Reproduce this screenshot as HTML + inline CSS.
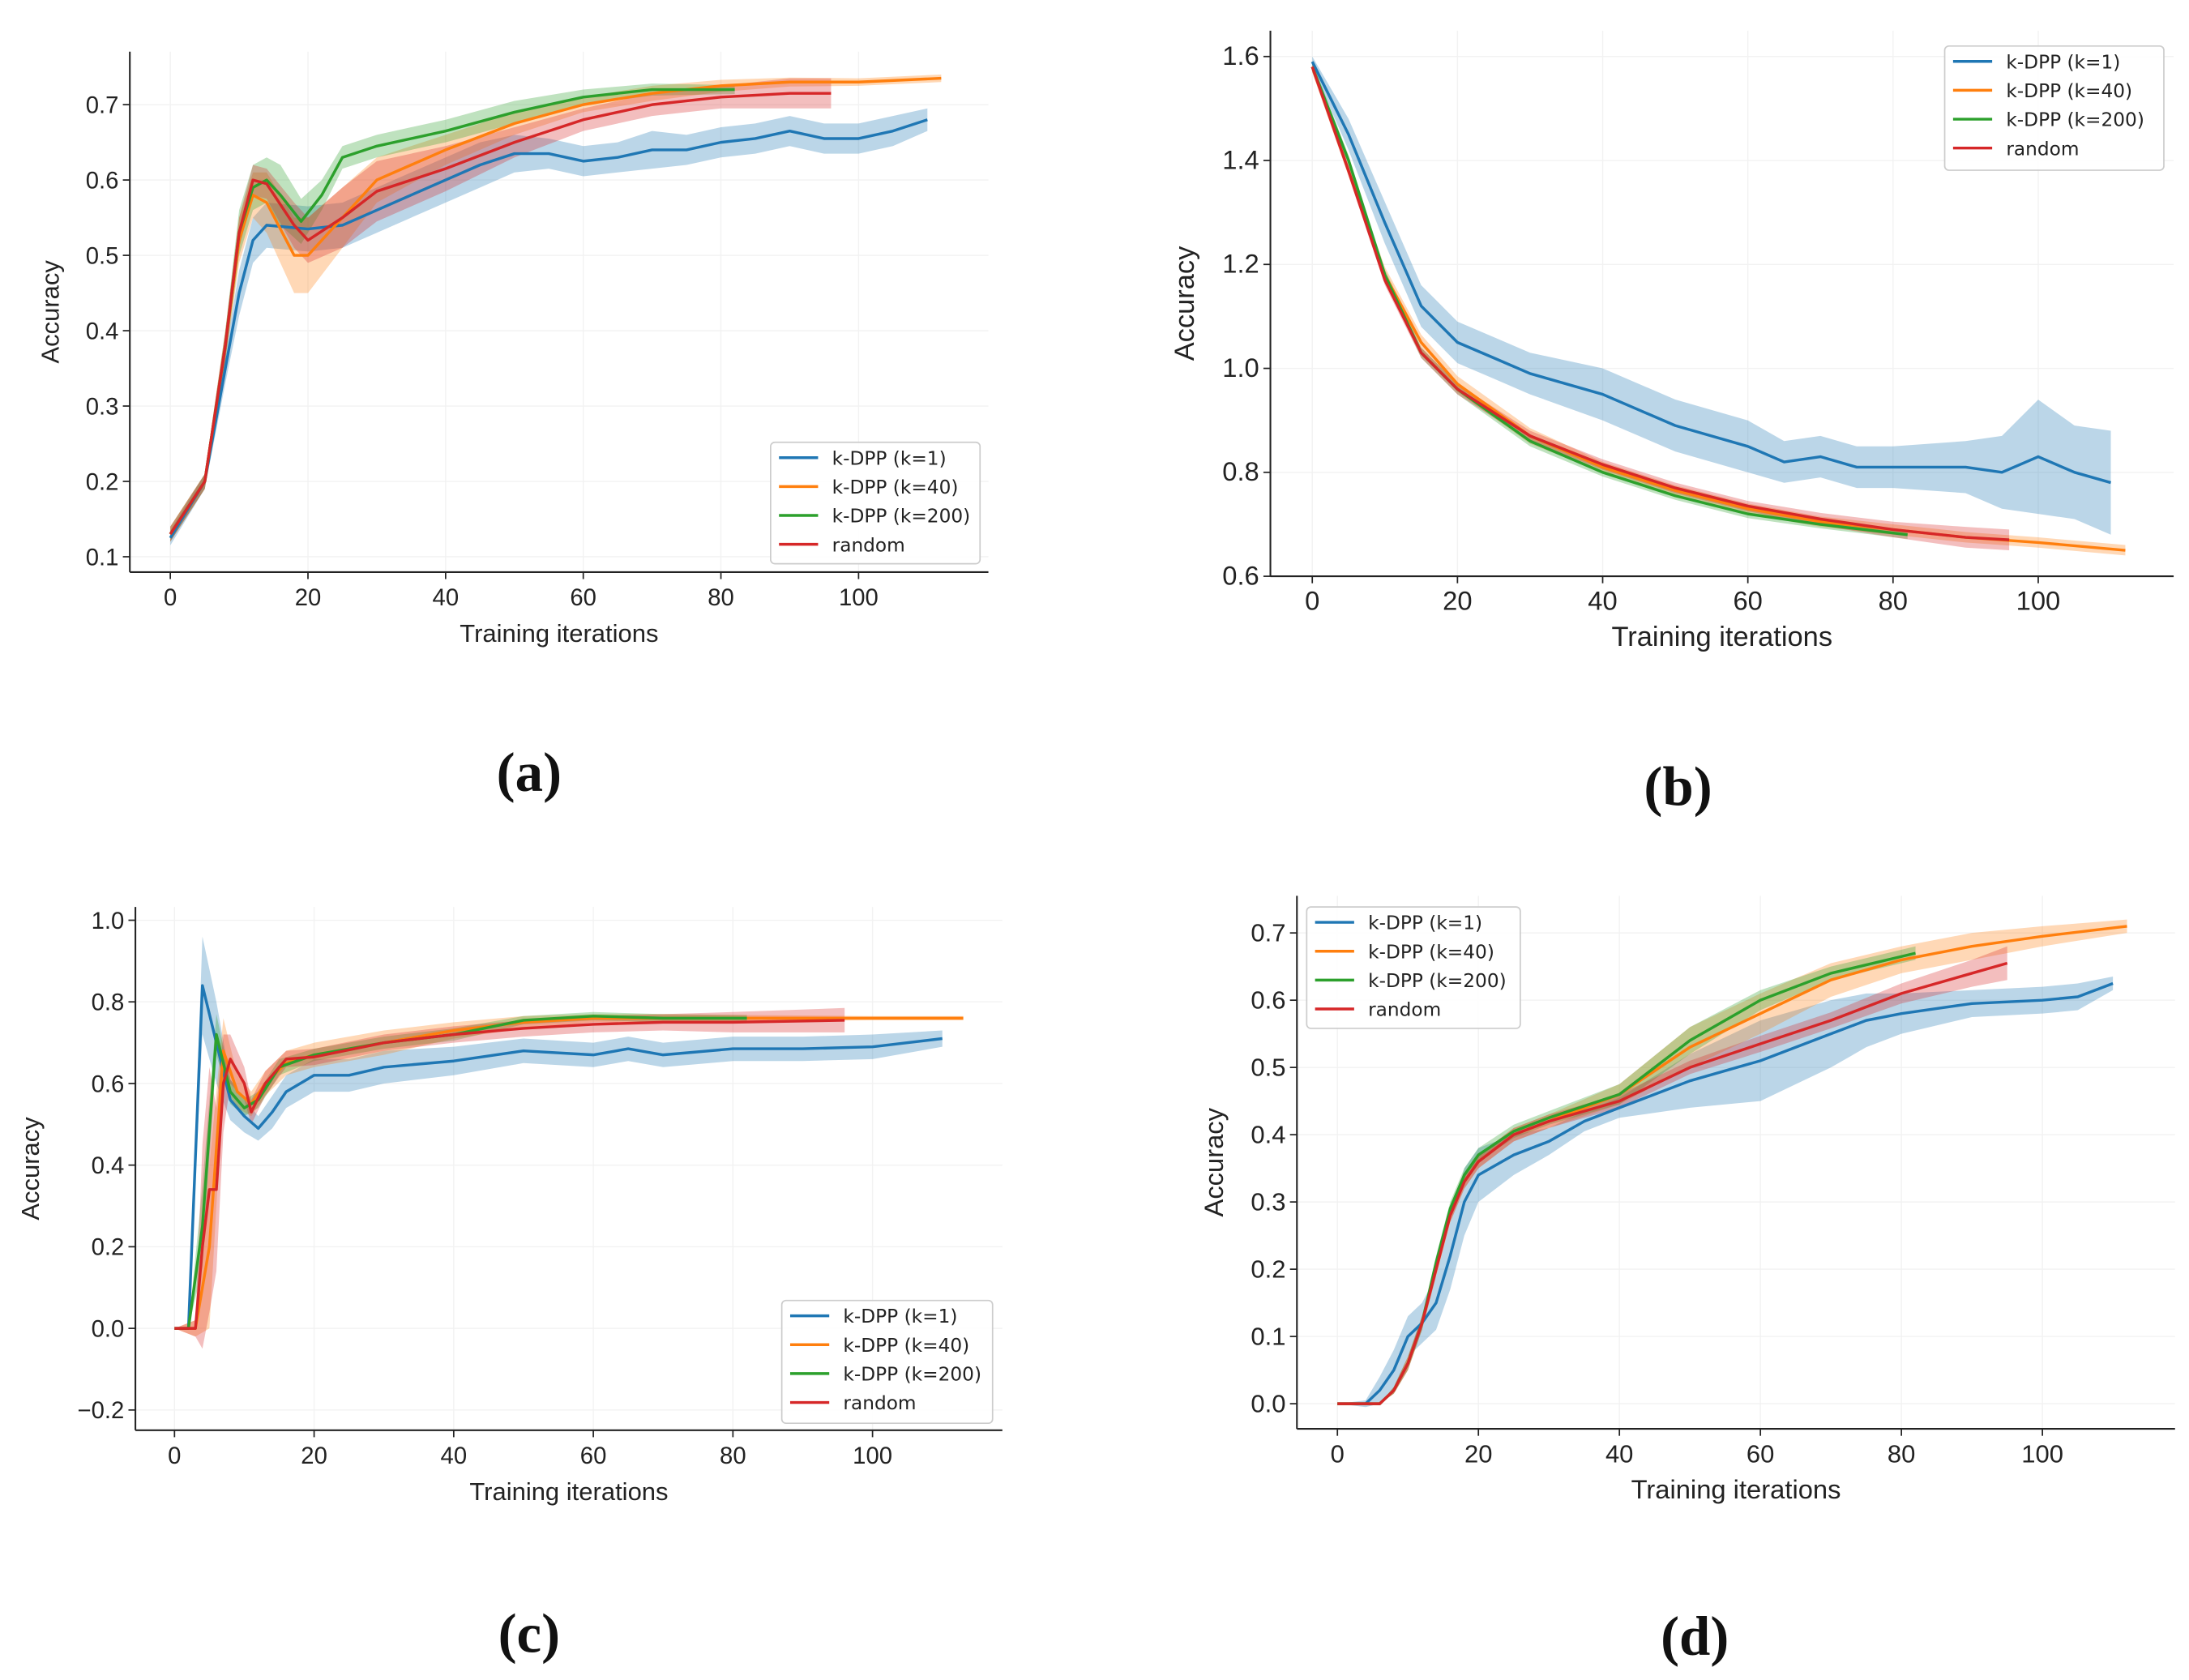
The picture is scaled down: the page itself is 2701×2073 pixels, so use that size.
<!DOCTYPE html>
<html><head><meta charset="utf-8"><style>
html,body{margin:0;padding:0;background:#fff;}
svg{display:block;}
</style></head><body>
<svg id="fig" width="2701" height="2073" viewBox="0 0 1568 1204" preserveAspectRatio="none" xmlns="http://www.w3.org/2000/svg"></svg>
<script>
// ---------- data: chart (a) ----------
const aBlueX=[0,5,8,10,12,14,20,25,30,35,40,45,50,55,60,65,70,75,80,85,90,95,100,105,110];
const aBlueY=[0.125,0.2,0.35,0.45,0.52,0.54,0.535,0.54,0.56,0.58,0.6,0.62,0.635,0.635,0.625,0.63,0.64,0.64,0.65,0.655,0.665,0.655,0.655,0.665,0.68];
const aBlueE=[0.01,0.01,0.02,0.03,0.03,0.03,0.03,0.03,0.03,0.03,0.03,0.03,0.025,0.02,0.02,0.02,0.025,0.02,0.02,0.02,0.02,0.02,0.02,0.02,0.015];
const aOrangeX=[0,5,8,10,12,14,18,20,25,30,35,40,50,60,70,80,90,100,112];
const aOrangeY=[0.13,0.2,0.38,0.52,0.58,0.57,0.5,0.5,0.55,0.6,0.62,0.64,0.675,0.7,0.715,0.725,0.73,0.73,0.735];
const aOrangeE=[0.01,0.01,0.02,0.03,0.03,0.04,0.05,0.05,0.04,0.03,0.025,0.02,0.015,0.01,0.01,0.008,0.006,0.005,0.005];
const aGreenX=[0,5,8,10,12,14,16,19,22,25,30,40,50,60,70,82];
const aGreenY=[0.13,0.2,0.38,0.53,0.59,0.6,0.58,0.545,0.58,0.63,0.645,0.665,0.69,0.71,0.72,0.72];
const aGreenE=[0.01,0.01,0.02,0.03,0.03,0.03,0.04,0.03,0.02,0.015,0.015,0.015,0.015,0.01,0.008,0.006];
const aRedX=[0,5,8,10,12,14,18,20,25,30,40,50,60,70,80,90,96];
const aRedY=[0.13,0.2,0.38,0.53,0.6,0.595,0.54,0.52,0.55,0.585,0.615,0.65,0.68,0.7,0.71,0.715,0.715];
const aRedE=[0.01,0.01,0.02,0.02,0.02,0.02,0.03,0.03,0.04,0.04,0.03,0.02,0.015,0.015,0.015,0.02,0.02];
const aXTicks=[0,20,40,60,80,100];
const aYTicks=[0.1,0.2,0.3,0.4,0.5,0.6,0.7];
// ---------- data: chart (b) ----------
const bBlueX=[0,5,10,15,20,25,30,40,50,60,65,70,75,80,90,95,100,105,110];
const bBlueY=[1.59,1.45,1.28,1.12,1.05,1.02,0.99,0.95,0.89,0.85,0.82,0.83,0.81,0.81,0.81,0.80,0.83,0.80,0.78];
const bBlueE=[0.01,0.03,0.04,0.04,0.04,0.04,0.04,0.05,0.05,0.05,0.04,0.04,0.04,0.04,0.05,0.07,0.11,0.09,0.1];
const bOrangeX=[0,5,10,15,20,30,40,50,60,70,80,90,100,112];
const bOrangeY=[1.58,1.38,1.18,1.05,0.97,0.87,0.81,0.765,0.73,0.705,0.69,0.675,0.665,0.65];
const bOrangeE=[0.01,0.01,0.015,0.015,0.015,0.015,0.01,0.01,0.01,0.01,0.01,0.01,0.01,0.01];
const bGreenX=[0,5,10,15,20,30,40,50,60,70,82];
const bGreenY=[1.58,1.4,1.18,1.03,0.96,0.86,0.8,0.755,0.72,0.7,0.68];
const bGreenE=[0.01,0.01,0.01,0.01,0.01,0.01,0.008,0.008,0.008,0.008,0.008];
const bRedX=[0,5,10,15,20,30,40,50,60,70,80,90,96];
const bRedY=[1.58,1.38,1.17,1.03,0.96,0.87,0.815,0.77,0.735,0.71,0.69,0.675,0.67];
const bRedE=[0.01,0.01,0.01,0.01,0.01,0.01,0.01,0.01,0.01,0.012,0.015,0.02,0.02];
const bXTicks=[0,20,40,60,80,100];
const bYTicks=[0.6,0.8,1.0,1.2,1.4,1.6];
// ---------- data: chart (c) ----------
const cBlueX=[0,2,4,6,8,10,12,14,16,20,25,30,40,50,60,65,70,80,90,100,110];
const cBlueY=[0,0,0.84,0.7,0.56,0.52,0.49,0.53,0.58,0.62,0.62,0.64,0.655,0.68,0.67,0.685,0.67,0.685,0.685,0.69,0.71];
const cBlueE=[0,0,0.12,0.1,0.05,0.04,0.03,0.04,0.04,0.04,0.04,0.04,0.035,0.03,0.03,0.03,0.03,0.03,0.03,0.03,0.02];
const cOrangeX=[0,3,5,7,9,11,13,16,20,30,40,50,60,70,80,100,113];
const cOrangeY=[0,0,0.2,0.68,0.58,0.55,0.6,0.65,0.67,0.7,0.73,0.75,0.76,0.76,0.76,0.76,0.76];
const cOrangeE=[0,0.02,0.2,0.08,0.04,0.03,0.03,0.03,0.03,0.03,0.02,0.015,0.01,0.01,0.008,0.005,0.005];
const cGreenX=[0,2,4,6,8,10,12,15,20,30,40,50,60,70,82];
const cGreenY=[0,0,0.25,0.72,0.58,0.54,0.56,0.64,0.67,0.7,0.72,0.755,0.765,0.76,0.76];
const cGreenE=[0,0,0.1,0.05,0.03,0.02,0.02,0.02,0.015,0.015,0.015,0.01,0.01,0.01,0.008];
const cRedX=[0,3,4,5,6,7,8,10,11,13,16,20,30,40,50,60,70,80,96];
const cRedY=[0,0,0.2,0.34,0.34,0.6,0.66,0.6,0.53,0.6,0.66,0.665,0.7,0.72,0.735,0.745,0.75,0.75,0.755];
const cRedE=[0,0.02,0.25,0.3,0.2,0.12,0.06,0.04,0.03,0.03,0.02,0.02,0.02,0.02,0.02,0.02,0.02,0.025,0.03];
const cXTicks=[0,20,40,60,80,100];
const cYTicks=[-0.2,0.0,0.2,0.4,0.6,0.8,1.0];
// ---------- data: chart (d) ----------
const dBlueX=[0,4,6,8,10,12,14,16,18,20,25,30,35,40,50,60,70,75,80,90,100,105,110];
const dBlueY=[0,0,0.02,0.05,0.1,0.12,0.15,0.22,0.3,0.34,0.37,0.39,0.42,0.44,0.48,0.51,0.55,0.57,0.58,0.595,0.6,0.605,0.625];
const dBlueE=[0,0.005,0.02,0.03,0.03,0.03,0.04,0.05,0.05,0.04,0.03,0.02,0.015,0.015,0.04,0.06,0.05,0.04,0.03,0.02,0.02,0.02,0.01];
const dOrangeX=[0,6,8,10,12,14,16,18,20,25,30,40,50,60,70,80,90,100,112];
const dOrangeY=[0,0,0.02,0.06,0.12,0.2,0.28,0.33,0.36,0.4,0.42,0.46,0.53,0.58,0.63,0.66,0.68,0.695,0.71];
const dOrangeE=[0,0,0.005,0.01,0.01,0.01,0.01,0.01,0.01,0.01,0.01,0.015,0.03,0.03,0.025,0.02,0.02,0.015,0.01];
const dGreenX=[0,6,8,10,12,14,16,18,20,25,30,40,50,60,70,82];
const dGreenY=[0,0,0.02,0.06,0.12,0.21,0.29,0.34,0.37,0.405,0.425,0.46,0.54,0.6,0.64,0.67];
const dGreenE=[0,0,0.005,0.01,0.01,0.01,0.01,0.01,0.01,0.01,0.01,0.015,0.02,0.015,0.01,0.01];
const dRedX=[0,6,8,10,12,14,16,18,20,25,30,40,50,60,70,80,90,95];
const dRedY=[0,0,0.02,0.06,0.12,0.2,0.28,0.33,0.36,0.4,0.42,0.45,0.5,0.535,0.57,0.61,0.64,0.655];
const dRedE=[0,0,0.005,0.01,0.01,0.01,0.01,0.01,0.01,0.01,0.01,0.01,0.01,0.012,0.012,0.015,0.02,0.025];
const dXTicks=[0,20,40,60,80,100];
const dYTicks=[0.0,0.1,0.2,0.3,0.4,0.5,0.6,0.7];
const legendLabels=["k-DPP (k=1)","k-DPP (k=40)","k-DPP (k=200)","random"];
const COLORS=["#1f77b4","#ff7f0e","#2ca02c","#d62728"];

const NS="http://www.w3.org/2000/svg";
const svg=document.getElementById('fig');
function mk(tag,attrs,parent){const e=document.createElementNS(NS,tag);for(const k in attrs)e.setAttribute(k,attrs[k]);(parent||svg).appendChild(e);return e;}
const SANS='font-family:"Liberation Sans",sans-serif;';
const DJ='font-family:"DejaVu Sans",sans-serif;';
const SERIF='font-family:"Liberation Serif",serif;font-weight:bold;';

function drawChart(id,cfg,series,xTicks,yTicks){
  const g=mk('g',{});
  
  
  const sx=cfg.sx, sy=cfg.sy;
  xTicks.forEach(t=>{mk('line',{x1:sx(t),x2:sx(t),y1:cfg.top,y2:cfg.bottom,stroke:'#f2f2f2','stroke-width':0.8},g);});
  yTicks.forEach(t=>{mk('line',{x1:cfg.left,x2:cfg.right,y1:sy(t),y2:sy(t),stroke:'#f2f2f2','stroke-width':0.8},g);});
  series.forEach((s,i)=>{
    let up='',dn='';
    s.x.forEach((v,j)=>{up+=(j?'L':'M')+sx(v).toFixed(1)+','+sy(s.y[j]+s.e[j]).toFixed(1);});
    for(let j=s.x.length-1;j>=0;j--){dn+='L'+sx(s.x[j]).toFixed(1)+','+sy(s.y[j]-s.e[j]).toFixed(1);}
    const band=mk('path',{d:up+dn+'Z',fill:COLORS[i],'fill-opacity':0.3,stroke:'none'},g);
    
    
  });
  series.forEach((s,i)=>{
    let d='';
    s.x.forEach((v,j)=>{d+=(j?'L':'M')+sx(v).toFixed(1)+','+sy(s.y[j]).toFixed(1);});
    const line=mk('path',{d:d,fill:'none',stroke:COLORS[i],'stroke-width':2,'stroke-linejoin':'round'},g);
    
    
  });
  mk('line',{x1:cfg.left,x2:cfg.left,y1:cfg.top,y2:cfg.bottom,stroke:'#222','stroke-width':1.2},g);
  mk('line',{x1:cfg.left,x2:cfg.right,y1:cfg.bottom,y2:cfg.bottom,stroke:'#222','stroke-width':1.2},g);
  xTicks.forEach(t=>{
    mk('line',{x1:sx(t),x2:sx(t),y1:cfg.bottom,y2:cfg.bottom+5,stroke:'#222'},g);
    const tx=mk('text',{x:sx(t),y:cfg.bottom+24,'text-anchor':'middle',fill:'#222',style:SANS+'font-size:'+cfg.fs+'px'},g);
    tx.textContent=String(t);
    
    
  });
  yTicks.forEach(t=>{
    mk('line',{x1:cfg.left-5,x2:cfg.left,y1:sy(t),y2:sy(t),stroke:'#222'},g);
    const ty=mk('text',{x:cfg.left-8,y:sy(t)+6,'text-anchor':'end',fill:'#222',style:SANS+'font-size:'+cfg.fs+'px'},g);
    ty.textContent=(t<0?'\u2212':'')+Math.abs(t).toFixed(1);
    
    
  });
  const xt=mk('text',{x:(cfg.left+cfg.right)/2,y:cfg.bottom+50,'text-anchor':'middle',fill:'#222',style:SANS+'font-size:'+(cfg.fs+1)+'px'},g);
  xt.textContent='Training iterations';
  
  
  const yx=cfg.ytx, yy=(cfg.top+cfg.bottom)/2;
  const yt=mk('text',{x:yx,y:yy,'text-anchor':'middle',fill:'#222',style:SANS+'font-size:'+(cfg.fs+1)+'px',transform:'rotate(-90 '+yx+' '+yy+')'},g);
  yt.textContent='Accuracy';
  
  
  const L=cfg.legend;
  const lg=mk('g',{},g);
  
  
  mk('rect',{x:L.x,y:L.y,width:L.w,height:L.h,rx:3,fill:'#fff','fill-opacity':0.9,stroke:'#ccc'},lg);
  legendLabels.forEach((lab,i)=>{
    const yy2=L.y+11+i*20.7;
    mk('line',{x1:L.x+6,x2:L.x+34,y1:yy2,y2:yy2,stroke:COLORS[i],'stroke-width':2},lg);
    const lt=mk('text',{x:L.x+44,y:yy2+5,fill:'#222',style:DJ+'font-size:13.5px'},lg);
    lt.textContent=lab;
    
    
  });
  const cap=mk('text',{x:cfg.cap[0],y:cfg.cap[1],'text-anchor':'middle',fill:'#111',style:SERIF+'font-size:40px'},g);
  cap.textContent=cfg.cap[2];
  
  
}

function S(name,x,y,e){return {name,x,y,e};}
drawChart('chart-a',{sx:v=>122+v*4.93,sy:v=>399-(v-0.1)*540,left:93,right:708,top:37,bottom:410,fs:17,ytx:42,
  legend:{x:552,y:317,w:150,h:87},cap:[379,567,'(a)']},
  [S('k1',aBlueX,aBlueY,aBlueE),S('k40',aOrangeX,aOrangeY,aOrangeE),S('k200',aGreenX,aGreenY,aGreenE),S('random',aRedX,aRedY,aRedE)],aXTicks,aYTicks);
drawChart('chart-b',{sx:v=>940+v*5.2,sy:v=>413-(v-0.6)*372.5,left:910,right:1557,top:22,bottom:413,fs:19,ytx:855,
  legend:{x:1393,y:33,w:157,h:89},cap:[1202,577,'(b)']},
  [S('k1',bBlueX,bBlueY,bBlueE),S('k40',bOrangeX,bOrangeY,bOrangeE),S('k200',bGreenX,bGreenY,bGreenE),S('random',bRedX,bRedY,bRedE)],bXTicks,bYTicks);
drawChart('chart-c',{sx:v=>125+v*5,sy:v=>952-v*292.5,left:97,right:718,top:650,bottom:1025,fs:17,ytx:28,
  legend:{x:560,y:932,w:151,h:88},cap:[379,1184,'(c)']},
  [S('k1',cBlueX,cBlueY,cBlueE),S('k40',cOrangeX,cOrangeY,cOrangeE),S('k200',cGreenX,cGreenY,cGreenE),S('random',cRedX,cRedY,cRedE)],cXTicks,cYTicks);
drawChart('chart-d',{sx:v=>958+v*5.05,sy:v=>1006-v*482,left:929,right:1558,top:642,bottom:1024,fs:18,ytx:876,
  legend:{x:936,y:650,w:153,h:87},cap:[1214,1186,'(d)']},
  [S('k1',dBlueX,dBlueY,dBlueE),S('k40',dOrangeX,dOrangeY,dOrangeE),S('k200',dGreenX,dGreenY,dGreenE),S('random',dRedX,dRedY,dRedE)],dXTicks,dYTicks);
</script>
</body></html>
